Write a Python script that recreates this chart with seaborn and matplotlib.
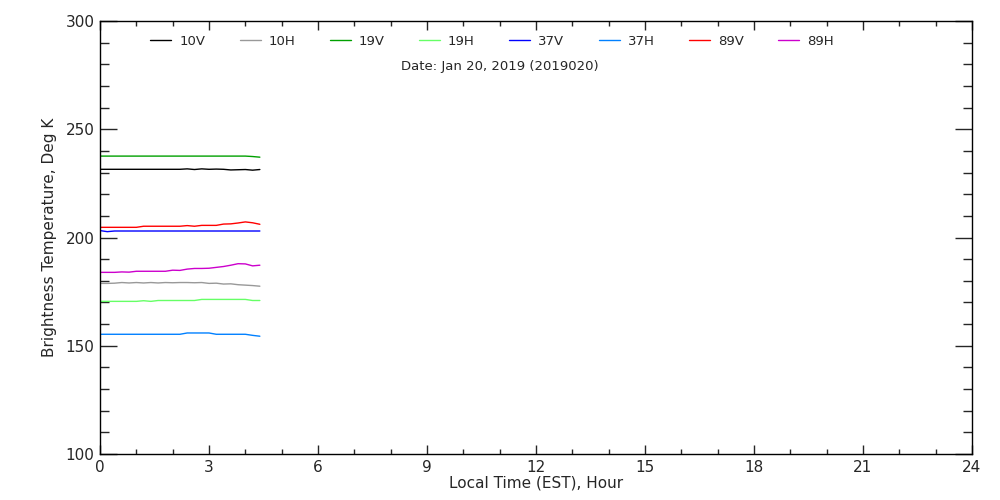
import numpy as np
import pandas as pd
import matplotlib
matplotlib.use("Agg")
import matplotlib.pyplot as plt
from matplotlib.ticker import MultipleLocator
import seaborn as sns

# =========================================
# DATA
# =========================================

hours = [0.0, 0.2, 0.4, 0.6, 0.8, 1.0, 1.2, 1.4, 1.6, 1.8, 2.0, 2.2,
         2.4, 2.6, 2.8, 3.0, 3.2, 3.4, 3.6, 3.8, 4.0, 4.2, 4.4]

tb_10v = [231.5, 231.5, 231.5, 231.5, 231.5, 231.5, 231.5, 231.5, 231.5, 231.5, 231.5, 231.5,
          231.7, 231.4, 231.7, 231.5, 231.6, 231.5, 231.2, 231.3, 231.4, 231.1, 231.4]
tb_10h = [178.8, 178.8, 178.9, 179.2, 179.0, 179.2, 179.0, 179.2, 179.0, 179.2, 179.1, 179.2,
          179.2, 179.1, 179.2, 178.8, 178.9, 178.5, 178.6, 178.2, 178.0, 177.8, 177.5]
tb_19v = [237.6, 237.6, 237.6, 237.6, 237.6, 237.6, 237.6, 237.6, 237.6, 237.6, 237.6, 237.6,
          237.6, 237.6, 237.6, 237.6, 237.6, 237.6, 237.6, 237.6, 237.6, 237.4, 237.1]
tb_19h = [170.5, 170.5, 170.5, 170.5, 170.5, 170.5, 170.8, 170.5, 170.9, 170.9, 170.9, 170.9,
          170.9, 170.9, 171.4, 171.4, 171.4, 171.4, 171.4, 171.4, 171.4, 170.9, 170.9]
tb_37v = [203.2, 202.7, 203.0, 203.0, 203.0, 203.0, 203.0, 203.0, 203.0, 203.0, 203.0, 203.0,
          203.0, 203.0, 203.0, 203.0, 203.0, 203.0, 203.0, 203.0, 203.0, 203.0, 203.0]
tb_37h = [155.3, 155.3, 155.3, 155.3, 155.3, 155.3, 155.3, 155.3, 155.3, 155.3, 155.3, 155.3,
          155.9, 155.9, 155.9, 155.9, 155.3, 155.3, 155.3, 155.3, 155.3, 154.8, 154.4]
tb_89v = [204.7, 204.7, 204.7, 204.7, 204.7, 204.7, 205.2, 205.2, 205.2, 205.2, 205.2, 205.2,
          205.5, 205.2, 205.6, 205.6, 205.6, 206.2, 206.3, 206.7, 207.2, 206.8, 206.1]
tb_89h = [183.9, 183.9, 183.9, 184.1, 184.0, 184.4, 184.4, 184.4, 184.4, 184.4, 184.9, 184.8,
          185.4, 185.7, 185.7, 185.8, 186.2, 186.6, 187.2, 187.9, 187.8, 186.9, 187.2]

channels = ["10V", "10H", "19V", "19H", "37V", "37H", "89V", "89H"]
colors = ["#000000", "#999999", "#00a000", "#66ff66",
          "#0000ff", "#0080ff", "#ff0000", "#cc00cc"]

# Build long dataframe for seaborn
series = [tb_10v, tb_10h, tb_19v, tb_19h, tb_37v, tb_37h, tb_89v, tb_89h]
frames = []
for name, vals in zip(channels, series):
    frames.append(pd.DataFrame({"hour": hours, "tb": vals, "channel": name}))
df = pd.concat(frames, ignore_index=True)

# =========================================
# PLOT
# =========================================

sns.set_style("ticks")
plt.rcParams['font.family'] = ['DejaVu Sans']

fig = plt.figure(figsize=(10, 5), dpi=100)
ax = fig.add_axes([0.1, 0.092, 0.872, 0.866])

sns.lineplot(
    data=df,
    x="hour",
    y="tb",
    hue="channel",
    hue_order=channels,
    palette=colors,
    linewidth=1,
    ax=ax
)

ax.set_xlim(0, 24)
ax.set_ylim(100, 300)
ax.xaxis.set_major_locator(MultipleLocator(3))
ax.xaxis.set_minor_locator(MultipleLocator(1))
ax.yaxis.set_major_locator(MultipleLocator(50))
ax.yaxis.set_minor_locator(MultipleLocator(10))

ax.tick_params(axis='x', which='major', direction='in', length=6.5,
               top=True, bottom=True, labelsize=11, pad=4, width=1)
ax.tick_params(axis='x', which='minor', direction='in', length=3.3,
               top=True, bottom=True, width=1)
ax.tick_params(axis='y', which='major', direction='in', length=12,
               left=True, right=True, labelsize=11, pad=4, width=1)
ax.tick_params(axis='y', which='minor', direction='in', length=6.5,
               left=True, right=True, width=1)

for s in ax.spines.values():
    s.set_linewidth(1)
    s.set_color("black")

ax.set_xlabel("Local Time (EST), Hour", fontsize=11, labelpad=1)
ax.set_ylabel("Brightness Temperature, Deg K", fontsize=11, labelpad=6)

ax.legend(
    loc="upper left",
    bbox_to_anchor=(0.044, 0.995),
    ncol=8,
    frameon=False,
    fontsize=9.5,
    handlelength=1.6,
    handletextpad=0.6,
    columnspacing=2.6
)

ax.text(0.459, 0.896, "Date: Jan 20, 2019 (2019020)",
        transform=ax.transAxes, ha="center", va="center", fontsize=9.5)

plt.savefig("out.png", dpi=100)
